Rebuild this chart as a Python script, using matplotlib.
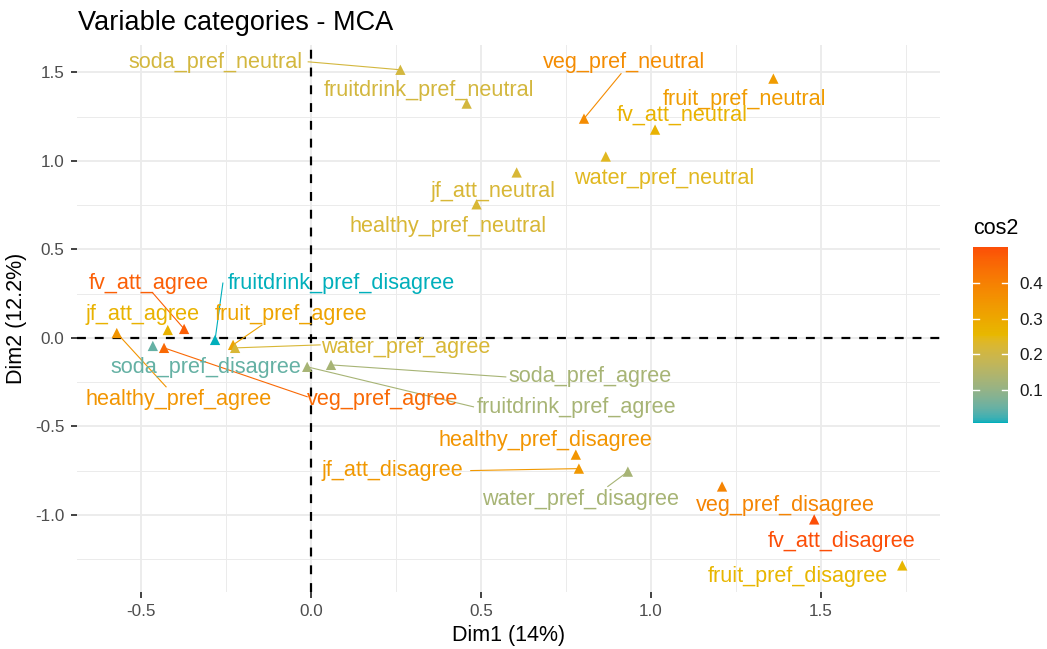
import numpy as np
import matplotlib
matplotlib.use('Agg')
import matplotlib.pyplot as plt
from matplotlib.colors import ListedColormap, Normalize, to_rgb
from matplotlib.cm import ScalarMappable

plt.rcParams['font.family'] = ['Liberation Sans', 'DejaVu Sans']

# categories and their MCA coordinates / quality of representation
names = ['soda_pref_neutral', 'fruitdrink_pref_neutral', 'veg_pref_neutral', 'fruit_pref_neutral',
         'fv_att_neutral', 'water_pref_neutral', 'jf_att_neutral', 'healthy_pref_neutral',
         'fv_att_agree', 'jf_att_agree', 'healthy_pref_agree', 'fruitdrink_pref_disagree',
         'fruit_pref_agree', 'water_pref_agree', 'soda_pref_disagree', 'veg_pref_agree',
         'soda_pref_agree', 'fruitdrink_pref_agree', 'healthy_pref_disagree', 'jf_att_disagree',
         'water_pref_disagree', 'veg_pref_disagree', 'fv_att_disagree', 'fruit_pref_disagree']
dim1 = [0.263, 0.458, 0.803, 1.360, 1.012, 0.867, 0.605, 0.487,
        -0.373, -0.421, -0.571, -0.282, -0.229, -0.223, -0.465, -0.432,
        0.059, -0.011, 0.779, 0.788, 0.932, 1.209, 1.480, 1.739]
dim2 = [1.515, 1.324, 1.239, 1.465, 1.177, 1.025, 0.935, 0.755,
        0.051, 0.045, 0.028, -0.011, -0.039, -0.056, -0.045, -0.056,
        -0.152, -0.163, -0.659, -0.738, -0.755, -0.839, -1.025, -1.285]
cos2 = [0.21, 0.21, 0.37, 0.33, 0.27, 0.24, 0.22, 0.22,
        0.47, 0.27, 0.35, 0.008, 0.31, 0.22, 0.05, 0.45,
        0.13, 0.13, 0.35, 0.34, 0.13, 0.39, 0.50, 0.26]
xticks = [-0.5, 0.0, 0.5, 1.0, 1.5]
yticks = [-1.0, -0.5, 0.0, 0.5, 1.0, 1.5]
cbar_ticks = [0.1, 0.2, 0.3, 0.4]
grad_cols = ['#00AFBB', '#E7B800', '#FC4E07']

# label placement (repel-style layout)
label_pos = {
    'soda_pref_neutral': (-0.282, 1.555), 'fruitdrink_pref_neutral': (0.346, 1.397),
    'veg_pref_neutral': (0.920, 1.555), 'fruit_pref_neutral': (1.274, 1.345),
    'fv_att_neutral': (1.091, 1.256), 'water_pref_neutral': (1.038, 0.901),
    'jf_att_neutral': (0.534, 0.826), 'healthy_pref_neutral': (0.402, 0.630),
    'fv_att_agree': (-0.477, 0.310), 'jf_att_agree': (-0.494, 0.130),
    'healthy_pref_agree': (-0.390, -0.350), 'fruitdrink_pref_disagree': (0.089, 0.310),
    'fruit_pref_agree': (-0.058, 0.130), 'water_pref_agree': (0.278, -0.052),
    'soda_pref_disagree': (-0.309, -0.169), 'veg_pref_agree': (0.210, -0.349),
    'soda_pref_agree': (0.820, -0.220), 'fruitdrink_pref_agree': (0.782, -0.394),
    'healthy_pref_disagree': (0.690, -0.580), 'jf_att_disagree': (0.240, -0.749),
    'water_pref_disagree': (0.794, -0.913), 'veg_pref_disagree': (1.395, -0.946),
    'fv_att_disagree': (1.560, -1.149), 'fruit_pref_disagree': (1.433, -1.346),
}
seg_start = {
    'soda_pref_neutral': (-0.008, 1.560), 'veg_pref_neutral': (0.912, 1.493),
    'fv_att_agree': (-0.465, 0.254), 'fruitdrink_pref_disagree': (-0.259, 0.310),
    'fruit_pref_agree': (-0.144, 0.073), 'water_pref_agree': (0.027, -0.039),
    'healthy_pref_agree': (-0.426, -0.276), 'veg_pref_agree': (-0.011, -0.332),
    'soda_pref_agree': (0.573, -0.220), 'fruitdrink_pref_agree': (0.478, -0.389),
    'jf_att_disagree': (0.470, -0.749), 'water_pref_disagree': (0.873, -0.839),
}


# gradient interpolated in CIE Lab, like ggplot's scale_color_gradientn
M = np.array([[0.4124, 0.3576, 0.1805], [0.2126, 0.7152, 0.0722], [0.0193, 0.1192, 0.9505]])
WHITE = M.sum(axis=1)

def rgb2lab(c):
    c = np.asarray(c)
    lin = np.where(c <= 0.04045, c/12.92, ((c+0.055)/1.055)**2.4)
    xyz = (M @ lin)/WHITE
    f = np.where(xyz > (6/29)**3, np.cbrt(xyz), xyz/(3*(6/29)**2) + 4/29)
    return np.array([116*f[1]-16, 500*(f[0]-f[1]), 200*(f[1]-f[2])])

def lab2rgb(lab):
    L, a, b = lab
    fy = (L+16)/116
    f = np.array([fy + a/500, fy, fy - b/200])
    xyz = np.where(f > 6/29, f**3, 3*(6/29)**2*(f-4/29))*WHITE
    lin = np.linalg.solve(M, xyz)
    c = np.where(lin <= 0.0031308, 12.92*lin, 1.055*np.clip(lin, 0, None)**(1/2.4)-0.055)
    return np.clip(c, 0, 1)

labs = [rgb2lab(to_rgb(c)) for c in grad_cols]
lut = []
for t in np.linspace(0, 1, 256):
    seg = min(int(t*2), 1)
    u = t*2 - seg
    lut.append(lab2rgb(labs[seg]*(1-u) + labs[seg+1]*u))
cmap = ListedColormap(lut)
norm = Normalize(vmin=min(cos2), vmax=max(cos2))

fig = plt.figure(figsize=(10.47, 6.49), dpi=100)
ax = fig.add_axes([77/1047, 1-592/649, 863/1047, 547/649])

ax.set_xlim(-0.688, 1.85)
ax.set_ylim(-1.435, 1.655)
ax.set_xticks(xticks)
ax.set_yticks(yticks)
ax.set_xticks([-0.25, 0.25, 0.75, 1.25, 1.75], minor=True)
ax.set_yticks([-1.25, -0.75, -0.25, 0.25, 0.75, 1.25], minor=True)
ax.set_axisbelow(True)
ax.grid(which='major', color='#EBEBEB', lw=1.3)
ax.grid(which='minor', color='#EBEBEB', lw=0.7)
for s in ax.spines.values():
    s.set_visible(False)
ax.tick_params(which='major', length=4, width=1.3, color='#333333', labelsize=12.3,
               labelcolor='#4D4D4D', pad=5)
ax.tick_params(which='minor', length=0)
ax.set_xticklabels(['-0.5', '0.0', '0.5', '1.0', '1.5'])
ax.set_yticklabels(['-1.0', '-0.5', '0.0', '0.5', '1.0', '1.5'])

ax.axhline(0, color='black', lw=1.6, ls=(0, (4, 4)), zorder=2)
ax.axvline(0, color='black', lw=1.6, ls=(0, (4, 4)), zorder=2)

cols = cmap(norm(np.array(cos2)))
for i, n in enumerate(names):
    if n in seg_start:
        sx, sy = seg_start[n]
        ax.plot([sx, dim1[i]], [sy, dim2[i]], color=cols[i], lw=0.8, zorder=2.5)
ax.scatter(dim1, dim2, c=cos2, cmap=cmap, norm=norm, marker='^', s=55,
           linewidths=0, zorder=3)
for i, n in enumerate(names):
    lx, ly = label_pos[n]
    ax.text(lx, ly, n, color=cols[i], fontsize=15.6, ha='center', va='center', zorder=4)

ax.set_xlabel('Dim1 (14%)', fontsize=15.5, labelpad=4)
ax.set_ylabel('Dim2 (12.2%)', fontsize=15.5, labelpad=6)
fig.text(78/1047, 1-30/649, 'Variable categories - MCA', fontsize=19.5,
         ha='left', va='baseline')

# colour bar legend
cax = fig.add_axes([973/1047, 1-423/649, 35/1047, 176/649])
cb = fig.colorbar(ScalarMappable(norm=norm, cmap=cmap), cax=cax, ticks=cbar_ticks)
cb.outline.set_visible(False)
cax.tick_params(length=0, labelsize=12.3, labelcolor='#1A1A1A', pad=8)
cax.set_yticklabels(['0.1', '0.2', '0.3', '0.4'])
tr = cax.get_yaxis_transform()
for v in cbar_ticks:
    cax.plot([0, 0.18], [v, v], color='white', lw=1, transform=tr)
    cax.plot([0.82, 1], [v, v], color='white', lw=1, transform=tr)
fig.text(973/1047, 1-234/649, 'cos2', fontsize=15.5, ha='left', va='baseline')

fig.savefig('out.png', dpi=100)
